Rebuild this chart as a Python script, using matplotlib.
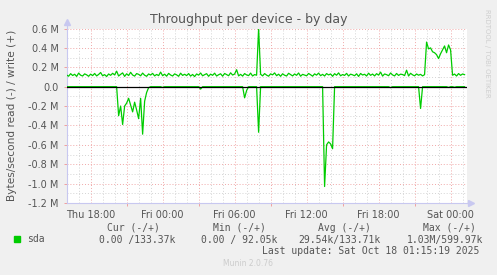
import numpy as np
import matplotlib
matplotlib.use('Agg')
import matplotlib.pyplot as plt

# samples every 10 minutes starting Thu 16:00 (hours since Thu 00:00)
start_hour = 16.0
step_hours = 1 / 6

# write (+) in kB/s
write_k = [
    120, 108, 134, 115, 128, 106, 140, 118, 110, 132, 122, 107,
    129, 114, 136, 111, 126, 146, 112, 124, 105, 131, 117, 138,
    121, 160, 110, 127, 142, 106, 133, 115, 148, 120, 109, 135,
    127, 112, 140, 118, 107, 131, 120, 137, 111, 126, 114, 150,
    113, 129, 108, 137, 120, 110, 132, 122, 107, 139, 116, 128,
    114, 135, 109, 126, 104, 131, 119, 141, 112, 124, 134, 107,
    129, 117, 139, 110, 123, 133, 108, 136, 125, 113, 143, 120,
    130, 175, 111, 127, 109, 135, 121, 114, 140, 110, 125, 118,
    600, 128, 111, 135, 119, 108, 132, 122, 142, 113, 129, 107,
    133, 118, 110, 138, 125, 111, 131, 117, 141, 108, 127, 120,
    112, 136, 123, 108, 132, 119, 140, 113, 127, 110, 135, 121,
    131, 107, 134, 118, 142, 112, 125, 116, 137, 110, 129, 122,
    113, 133, 106, 136, 120, 128, 110, 139, 117, 130, 111, 134,
    119, 150, 109, 131, 124, 113, 141, 121, 111, 136, 116, 129,
    125, 114, 170, 110, 138, 122, 112, 131, 118, 127, 111, 124,
    460, 390, 400, 360, 350, 330, 290, 340, 380, 420, 350, 430,
    380, 118, 130, 110, 135, 117, 131, 124,
]

# read (-) in kB/s, drawn negative
read_k = [
    0, 0, 0, 0, 0, 0, 0, 0, 0, 0, 0, 0,
    0, 0, 0, 0, 0, 0, 0, 0, 0, 0, 0, 0,
    0, 0, -300, -200, -390, -200, -170, -120, -190, -260, -160, -240,
    -330, -120, -490, -150, -60, -10, 0, 0, 0, 0, 0, 0,
    -8, 0, 0, 0, 0, 0, 0, 0, 0, 0, 0, 0,
    0, 0, 0, 0, 0, 0, 0, -25, 0, 0, 0, 0,
    0, 0, 0, 0, 0, 0, 0, 0, 0, 0, 0, 0,
    0, 0, 0, 0, 0, -115, -40, 0, 0, 0, 0, 0,
    -470, 0, 0, 0, 0, 0, 0, 0, 0, 0, 0, 0,
    0, 0, 0, 0, 0, 0, 0, 0, 0, 0, 0, 0,
    0, 0, 0, 0, 0, 0, 0, 0, 0, -1030, -600, -570,
    -590, -640, 0, 0, 0, 0, 0, 0, 0, 0, 0, 0,
    0, 0, 0, 0, 0, 0, 0, 0, 0, 0, 0, 0,
    0, 0, 0, 0, 0, 0, -10, 0, 0, 0, 0, 0,
    0, 0, 0, 0, 0, 0, 0, 0, 0, -225, 0, 0,
    0, 0, 0, 0, 0, 0, 0, 0, 0, 0, 0, -8,
    0, 0, -6, 0, 0, 0, 0, 0,
]

tick_hours = [18, 24, 30, 36, 42, 48]
tick_labels = ['Thu 18:00', 'Fri 00:00', 'Fri 06:00', 'Fri 12:00', 'Fri 18:00', 'Sat 00:00']
ytick_vals = [0.6e6, 0.4e6, 0.2e6, 0.0, -0.2e6, -0.4e6, -0.6e6, -0.8e6, -1.0e6, -1.2e6]
ytick_labels = ['0.6 M', '0.4 M', '0.2 M', '0.0', '-0.2 M', '-0.4 M', '-0.6 M', '-0.8 M', '-1.0 M', '-1.2 M']

legend_cols = ['Cur (-/+)', 'Min (-/+)', 'Avg (-/+)', 'Max (-/+)']
legend_vals = ['0.00 /133.37k', '0.00 / 92.05k', '29.54k/133.71k', '1.03M/599.97k']

W, H = 497, 275
BG = '#f0f0f0'
TXT = '#555555'
GREEN = '#00cc00'
AXIS = '#c8c8f0'


def fx(px):
    return px / W


def fy(py):
    return 1 - py / H


hours = start_hour + step_hours * np.arange(len(write_k))
write = np.array(write_k) * 1000.0
read = np.array(read_k) * 1000.0

fig = plt.figure(figsize=(W / 100, H / 100), dpi=100)
fig.patch.set_facecolor(BG)
ax = fig.add_axes([fx(67), fy(203), fx(467) - fx(67), fy(28.5) - fy(203)])
ax.set_facecolor('white')

ax.set_xlim(16.03, 49.37)
ax.set_ylim(-1.2e6, 0.6e6)

# grid: minor gray every hour / 0.1M, major red every 3h / 0.2M
dots = (0, (1, 2))
for h in np.arange(17, 50, 1):
    col = '#f0a8a8' if h % 3 == 0 else '#d4d4d4'
    ax.axvline(h, color=col, lw=0.7, ls=dots, zorder=1)
for v in np.arange(-1.1e6, 0.65e6, 0.1e6):
    major = abs(round(v / 1e5)) % 2 == 0
    col = '#f0a8a8' if major else '#d4d4d4'
    ax.axhline(v, color=col, lw=0.7, ls=dots, zorder=1)

ax.plot(hours, write, color=GREEN, lw=0.9, zorder=3)
ax.plot(hours, read, color=GREEN, lw=0.9, zorder=3)
ax.axhline(0, color='black', lw=0.9, zorder=4)

for s in ['top', 'right']:
    ax.spines[s].set_visible(False)
for s in ['left', 'bottom']:
    ax.spines[s].set_color(AXIS)
    ax.spines[s].set_linewidth(0.8)

# axis arrows
ax.plot([0, 0], [1.0, 1.035], color=AXIS, lw=0.8, transform=ax.transAxes, clip_on=False)
ax.plot([0], [1.035], marker='^', ms=4, color=AXIS, transform=ax.transAxes, clip_on=False)
ax.plot([1.0, 1.01], [0, 0], color=AXIS, lw=0.8, transform=ax.transAxes, clip_on=False)
ax.plot([1.01], [0], marker='>', ms=4, color=AXIS, transform=ax.transAxes, clip_on=False)

ax.set_xticks(tick_hours)
ax.set_xticklabels(tick_labels)
ax.set_xticks(np.arange(18, 50, 3), minor=True)
ax.set_yticks(ytick_vals)
ax.set_yticklabels(ytick_labels)
ax.tick_params(axis='both', which='both', colors='#f0a0a0', labelcolor=TXT, labelsize=7,
               length=2, width=0.7, pad=2)
ax.tick_params(axis='x', which='major', length=0, pad=5)
ax.tick_params(axis='y', which='major', length=2, pad=4)

fig.text(fx(248.5), fy(19), 'Throughput per device - by day', ha='center', va='center',
         fontsize=9, color=TXT)
fig.text(fx(12), fy(115), 'Bytes/second read (-) / write (+)', rotation=90,
         ha='center', va='center', fontsize=7.6, color=TXT)
fig.text(fx(487), fy(53), 'RRDTOOL / TOBI OETIKER', rotation=270, ha='center', va='center',
         fontsize=5, color='#cfcfcf')
fig.text(fx(248), fy(264), 'Munin 2.0.76', ha='center', va='center', fontsize=5.5, color='#cccccc')

# legend table
mono = 'DejaVu Sans Mono'
fig.patches.append(plt.Rectangle((fx(14), fy(242)), fx(6), fy(236) - fy(242), color=GREEN,
                                 transform=fig.transFigure, figure=fig))
fig.text(fx(27), fy(239.5), 'sda', family=mono, fontsize=7, color=TXT, va='center')
head_x = [107, 213, 318, 423]
val_x = [99, 201, 298, 407]
for hx, name in zip(head_x, legend_cols):
    fig.text(fx(hx), fy(228), name, family=mono, fontsize=7, color=TXT, va='center')
for vx, val in zip(val_x, legend_vals):
    fig.text(fx(vx), fy(239.5), val, family=mono, fontsize=7, color=TXT, va='center')
fig.text(fx(262), fy(251), 'Last update: Sat Oct 18 01:15:19 2025', family=mono, fontsize=7,
         color=TXT, va='center')

plt.savefig('out.png', dpi=100, facecolor=fig.get_facecolor())
